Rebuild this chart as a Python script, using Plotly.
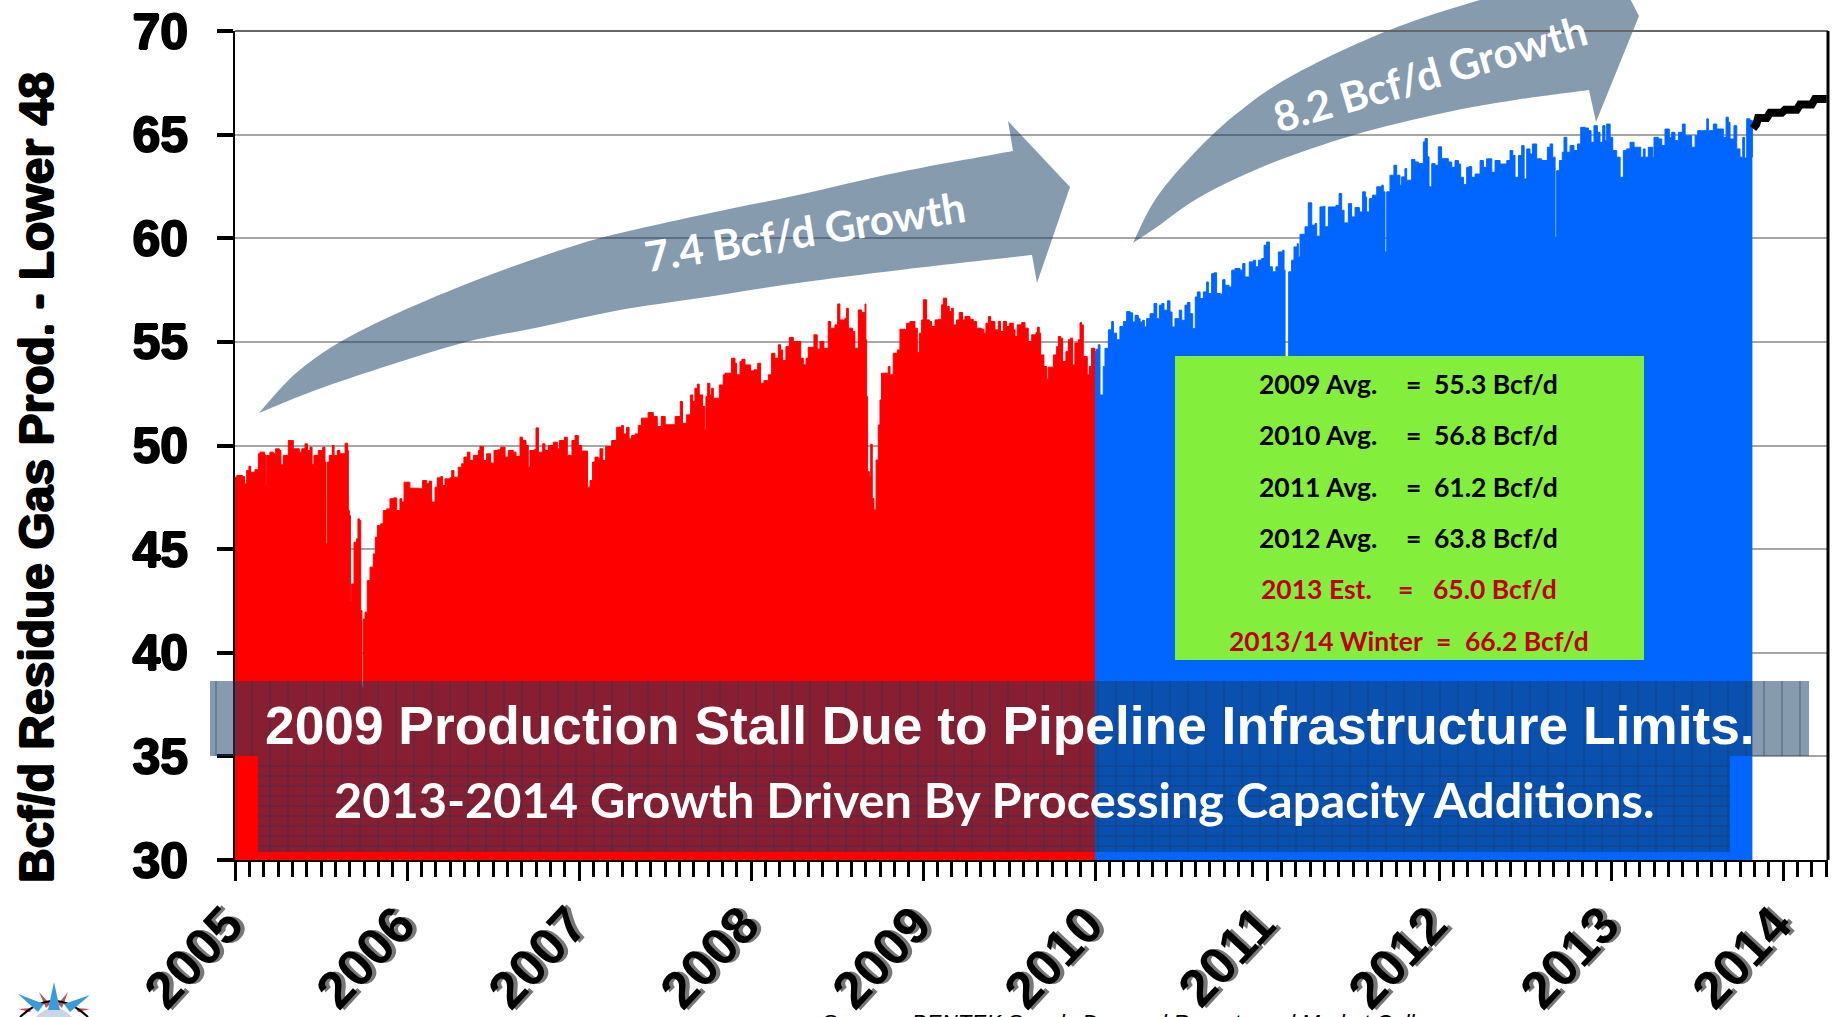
import plotly.graph_objects as go

# Bcf/d, x in decimal years
red_years = [2005.000,2005.010,2005.045,2005.056,2005.068,2005.081,2005.091,2005.116,2005.136,2005.145,2005.172,2005.178,2005.184,2005.203,2005.223,2005.236,2005.258,2005.267,2005.281,2005.310,
    2005.329,2005.339,2005.374,2005.388,2005.407,2005.421,2005.436,2005.448,2005.459,2005.484,2005.510,2005.523,2005.529,2005.537,2005.548,2005.566,2005.576,2005.595,2005.610,2005.640,
    2005.655,2005.659,2005.665,2005.671,2005.678,2005.692,2005.707,2005.715,2005.723,2005.731,2005.738,2005.746,2005.756,2005.769,2005.785,2005.804,2005.816,2005.828,2005.847,2005.862,
    2005.882,2005.901,2005.921,2005.940,2005.959,2005.969,2005.983,2005.998,2006.017,2006.041,2006.066,2006.091,2006.114,2006.128,2006.143,2006.163,2006.176,2006.196,2006.207,2006.221,
    2006.250,2006.260,2006.273,2006.298,2006.318,2006.331,2006.351,2006.366,2006.386,2006.415,2006.424,2006.444,2006.463,2006.486,2006.506,2006.527,2006.545,2006.570,2006.589,2006.618,
    2006.634,2006.657,2006.672,2006.692,2006.705,2006.715,2006.738,2006.750,2006.764,2006.789,2006.802,2006.822,2006.851,2006.874,2006.886,2006.915,2006.932,2006.948,2006.959,2006.977,
    2006.996,2007.016,2007.039,2007.050,2007.064,2007.079,2007.093,2007.112,2007.122,2007.138,2007.155,2007.190,2007.219,2007.248,2007.258,2007.277,2007.291,2007.306,2007.326,2007.345,
    2007.363,2007.402,2007.432,2007.455,2007.478,2007.501,2007.547,2007.559,2007.589,2007.602,2007.626,2007.649,2007.661,2007.674,2007.688,2007.699,2007.719,2007.732,2007.738,2007.748,
    2007.761,2007.771,2007.781,2007.796,2007.816,2007.839,2007.849,2007.878,2007.887,2007.907,2007.916,2007.936,2007.947,2007.965,2007.984,2007.998,2008.017,2008.039,2008.056,2008.075,
    2008.101,2008.120,2008.139,2008.159,2008.172,2008.184,2008.203,2008.223,2008.246,2008.275,2008.289,2008.304,2008.320,2008.333,2008.353,2008.366,2008.385,2008.401,2008.424,2008.449,
    2008.463,2008.488,2008.504,2008.517,2008.546,2008.556,2008.566,2008.591,2008.604,2008.624,2008.643,2008.663,2008.668,2008.672,2008.678,2008.688,2008.696,2008.705,2008.715,2008.727,
    2008.740,2008.750,2008.759,2008.789,2008.798,2008.808,2008.827,2008.851,2008.866,2008.895,2008.905,2008.924,2008.944,2008.953,2008.967,2008.979,2008.992,2009.002,2009.021,2009.037,
    2009.050,2009.070,2009.089,2009.108,2009.118,2009.137,2009.153,2009.166,2009.176,2009.195,2009.211,2009.230,2009.244,2009.273,2009.292,2009.312,2009.341,2009.354,2009.366,2009.380,
    2009.393,2009.418,2009.438,2009.451,2009.467,2009.486,2009.502,2009.525,2009.535,2009.548,2009.574,2009.593,2009.612,2009.632,2009.657,2009.665,2009.676,2009.684,2009.703,2009.719,
    2009.728,2009.742,2009.758,2009.777,2009.787,2009.800,2009.812,2009.831,2009.845,2009.858,2009.870,2009.883,2009.903,2009.913,2009.922,2009.932,2009.955,2009.967,2009.980,2010.000]
red_values = [48.47,48.55,48.50,48.15,48.79,49.00,48.71,48.83,49.60,49.68,49.55,48.07,49.52,49.68,49.60,49.84,49.76,49.07,49.52,50.24,
    50.24,49.84,49.68,49.84,50.08,49.76,49.92,49.07,49.52,49.76,49.92,49.20,45.25,49.20,49.52,50.00,49.52,49.76,49.60,50.11,
    49.76,46.86,46.62,42.52,43.32,45.33,45.50,46.46,46.38,42.04,38.34,41.63,41.96,43.48,44.13,44.77,45.58,46.14,46.22,46.86,
    46.94,47.43,47.47,46.86,47.43,47.27,48.23,48.23,47.94,47.94,47.91,48.31,48.15,48.28,47.27,47.99,48.44,48.50,48.07,48.39,
    48.44,48.79,48.47,48.95,49.12,49.44,49.68,49.28,49.52,49.76,49.95,49.28,49.60,49.15,49.76,49.79,49.92,49.44,49.76,49.68,
    49.47,50.40,50.24,50.00,48.95,49.76,49.79,50.85,49.68,50.08,49.76,50.00,50.16,49.84,50.24,50.40,49.52,49.52,50.24,50.48,
    50.00,49.73,49.73,47.99,48.31,49.20,49.44,49.36,49.84,49.28,49.95,50.24,50.88,50.97,50.56,50.88,50.32,50.48,50.56,50.97,
    51.32,51.59,51.40,50.91,51.40,51.00,51.00,51.40,52.12,51.07,51.48,52.44,52.12,52.76,52.96,52.44,51.88,50.75,52.36,53.00,
    52.44,52.76,52.28,52.28,52.92,53.41,53.49,53.49,54.21,53.97,53.41,54.05,54.16,53.89,53.89,53.60,53.65,53.97,53.00,53.13,
    53.41,54.45,54.21,54.86,54.61,54.10,54.77,55.21,55.02,55.02,54.21,53.89,54.21,54.74,54.74,55.34,54.65,55.02,54.69,55.98,
    55.66,55.82,56.83,56.06,56.14,56.62,55.66,55.50,54.69,56.54,56.42,56.83,55.10,52.36,48.74,48.50,50.06,47.45,46.89,49.30,
    50.99,52.20,53.49,53.49,53.81,53.41,54.45,54.61,55.61,55.58,55.90,55.98,55.98,55.66,54.49,55.42,56.06,57.03,56.06,55.98,
    55.74,56.06,56.09,56.79,57.11,56.71,56.46,56.62,55.82,56.06,56.42,56.06,56.22,56.09,55.98,55.66,55.61,55.42,55.90,56.22,
    55.98,55.58,55.98,55.50,55.98,55.74,55.90,55.58,55.26,55.82,55.93,55.66,55.02,55.34,55.45,55.71,55.42,54.37,53.81,53.20,
    53.78,53.78,54.37,54.77,55.26,55.18,54.05,54.53,55.10,55.18,53.89,54.94,55.10,55.93,55.82,54.29,53.41,53.81,54.69,54.53]

blue_years = [2010.000,2010.009,2010.019,2010.029,2010.039,2010.048,2010.058,2010.078,2010.097,2010.107,2010.126,2010.145,2010.165,2010.184,2010.204,2010.219,2010.233,2010.252,2010.262,2010.277,
    2010.287,2010.300,2010.320,2010.343,2010.359,2010.374,2010.388,2010.401,2010.421,2010.436,2010.448,2010.465,2010.490,2010.504,2010.523,2010.537,2010.552,2010.568,2010.583,2010.595,
    2010.611,2010.630,2010.649,2010.659,2010.678,2010.692,2010.707,2010.731,2010.742,2010.756,2010.779,2010.795,2010.814,2010.843,2010.859,2010.872,2010.897,2010.921,2010.934,2010.950,
    2010.969,2010.983,2010.998,2011.014,2011.031,2011.052,2011.066,2011.091,2011.099,2011.105,2011.114,2011.126,2011.143,2011.157,2011.176,2011.182,2011.192,2011.211,2011.221,2011.240,
    2011.250,2011.260,2011.279,2011.289,2011.308,2011.328,2011.337,2011.357,2011.376,2011.401,2011.419,2011.434,2011.448,2011.473,2011.492,2011.512,2011.537,2011.556,2011.572,2011.579,
    2011.595,2011.614,2011.638,2011.667,2011.676,2011.686,2011.696,2011.715,2011.738,2011.754,2011.773,2011.783,2011.802,2011.812,2011.841,2011.860,2011.880,2011.909,2011.919,2011.932,
    2011.942,2011.958,2011.977,2011.996,2012.015,2012.054,2012.074,2012.093,2012.113,2012.126,2012.142,2012.161,2012.175,2012.190,2012.210,2012.239,2012.258,2012.277,2012.307,2012.326,
    2012.355,2012.394,2012.413,2012.429,2012.442,2012.462,2012.481,2012.495,2012.510,2012.529,2012.543,2012.568,2012.597,2012.630,2012.646,2012.661,2012.675,2012.684,2012.700,2012.717,
    2012.727,2012.743,2012.762,2012.785,2012.805,2012.824,2012.849,2012.869,2012.884,2012.901,2012.921,2012.936,2012.952,2012.965,2012.975,2012.995,2013.010,2013.033,2013.053,2013.072,
    2013.091,2013.111,2013.134,2013.159,2013.173,2013.188,2013.198,2013.217,2013.243,2013.250,2013.275,2013.295,2013.314,2013.339,2013.353,2013.372,2013.392,2013.415,2013.431,2013.450,
    2013.469,2013.489,2013.504,2013.527,2013.557,2013.566,2013.595,2013.615,2013.653,2013.669,2013.682,2013.692,2013.715,2013.731,2013.750,2013.766,2013.777,2013.789,2013.808,2013.822]
blue_values = [54.53,54.65,54.86,52.44,52.44,53.81,54.69,55.58,55.98,55.42,55.10,55.74,55.98,56.46,56.40,55.96,56.28,56.12,55.96,56.04,
    55.72,56.12,56.36,56.85,56.12,56.77,56.85,56.53,56.98,56.44,55.72,56.12,56.53,56.04,56.77,56.90,56.36,55.64,57.17,57.41,
    57.09,57.41,57.89,57.33,58.29,58.33,57.33,57.30,58.00,57.73,57.65,58.46,58.54,58.46,58.78,58.13,58.86,58.94,58.62,58.94,
    59.02,59.66,59.82,58.62,58.38,58.62,59.34,59.42,58.46,53.95,53.95,58.38,58.94,59.58,59.74,59.10,60.19,60.19,60.55,61.71,
    61.71,60.63,60.71,60.10,61.51,61.54,60.55,61.51,61.51,61.59,62.16,61.35,60.74,61.67,61.03,61.48,61.27,62.24,61.99,61.27,
    61.91,62.08,62.48,62.56,62.24,59.34,62.24,63.04,63.52,63.04,62.56,62.96,63.36,62.80,63.80,63.68,63.60,64.65,64.81,63.93,
    62.48,63.60,63.52,64.41,63.84,63.68,63.42,63.75,63.58,62.94,62.59,63.42,63.46,62.94,63.10,63.75,63.42,63.83,63.18,63.75,
    63.58,63.75,64.23,63.99,62.94,63.99,64.47,62.86,64.31,64.07,64.55,63.83,63.75,64.39,64.55,63.91,60.05,63.26,63.75,64.15,
    64.87,64.15,64.47,64.23,64.55,65.35,65.32,65.19,64.63,65.43,65.11,64.63,65.43,64.71,65.51,64.87,64.23,63.91,62.94,64.23,
    64.31,64.63,64.39,64.39,63.91,64.31,63.91,64.39,63.91,64.87,64.79,64.47,65.27,64.87,65.11,64.71,65.11,65.51,64.95,64.95,
    64.39,64.95,65.19,65.19,65.76,65.19,65.51,65.27,64.87,65.84,65.60,64.79,65.43,64.31,63.91,64.87,63.87,65.76,65.68,63.91]

forecast_years = [2013.826,2013.845,2013.855,2013.905,2013.925,2013.992,2014.012,2014.080,2014.099,2014.167,2014.186,2014.254]
forecast_values = [65.30,65.50,65.80,65.80,66.05,66.05,66.20,66.20,66.45,66.45,66.72,66.72]

year_ticks = [2005,2006,2007,2008,2009,2010,2011,2012,2013,2014]
value_ticks = [30,35,40,45,50,55,60,65,70]

avg_labels = ["2009 Avg.","2010 Avg.","2011 Avg.","2012 Avg.","2013 Est.","2013/14 Winter"]
avg_values = ["55.3 Bcf/d","56.8 Bcf/d","61.2 Bcf/d","63.8 Bcf/d","65.0 Bcf/d","66.2 Bcf/d"]
avg_colors = ["black","black","black","black","#C00000","#C00000"]
avg_label_x = [1257,1257,1257,1257,1259,1227]
avg_eq_x = [1413,1413,1413,1413,1405,1443]
avg_value_x = [1432,1432,1432,1432,1431,1463]
avg_y = [384,435,487,538,589,641]

W, H = 1836, 1017
L, R, T, B = 235, 1828, 31, 860
OVERLAY = "#143B62"
HEAVY = "1px 0 0 black, -1px 0 0 black, 0 1px 0 black, 0 -1px 0 black"

# page pixels to paper fractions
def px(x):
    return (x - L) / (R - L)

def py(y):
    return (B - y) / (B - T)

def path(points):
    return "M " + " L ".join(f"{px(x):.5f},{py(y):.5f}" for x, y in points) + " Z"

# catmull-rom through the points, for the bent arrow edges
def curve(points):
    out = ""
    for i in range(len(points) - 1):
        p0 = points[max(i - 1, 0)]
        p1 = points[i]
        p2 = points[i + 1]
        p3 = points[min(i + 2, len(points) - 1)]
        c1 = (p1[0] + (p2[0] - p0[0]) / 6, p1[1] + (p2[1] - p0[1]) / 6)
        c2 = (p2[0] - (p3[0] - p1[0]) / 6, p2[1] - (p3[1] - p1[1]) / 6)
        out += f"C {px(c1[0]):.5f},{py(c1[1]):.5f} {px(c2[0]):.5f},{py(c2[1]):.5f} {px(p2[0]):.5f},{py(p2[1]):.5f} "
    return out

def arrow_path(upper, head, lower):
    d = f"M {px(upper[0][0]):.5f},{py(upper[0][1]):.5f} " + curve(upper)
    for x, y in head:
        d += f"L {px(x):.5f},{py(y):.5f} "
    d += f"L {px(lower[0][0]):.5f},{py(lower[0][1]):.5f} " + curve(lower)
    return d + "Z"

fig = go.Figure()

fig.add_trace(go.Scatter(x=red_years, y=red_values, mode="lines", fill="tozeroy",
                         line=dict(color="#FF0000", width=1, shape="hv"), fillcolor="#FF0000"))
fig.add_trace(go.Scatter(x=blue_years, y=blue_values, mode="lines", fill="tozeroy",
                         line=dict(color="#0066FF", width=1, shape="hv"), fillcolor="#0066FF"))
fig.add_trace(go.Scatter(x=forecast_years, y=forecast_values, mode="lines",
                         line=dict(color="black", width=8)))

# growth arrows
arrow_1 = arrow_path([(259,413),(295,374),(340,342),(400,312),(474,281),(540,257),(600,238),(660,224),(720,211),(798,195),(900,172),(1013,151)],
                     [(1008,121),(1070,187),(1037,283)],
                     [(1032,255),(900,270),(798,283),(700,298),(620,310),(540,327),(466,342),(390,365),(316,390),(259,413)])
arrow_2 = arrow_path([(1133,243),(1157,197),(1200,147),(1245,107),(1297,73),(1387,31),(1480,0),(1560,-20)],
                     [(1610,-40),(1639,16),(1596,122)],
                     [(1589,90),(1515,100),(1443,113),(1354,135),(1267,165),(1200,197),(1157,227),(1133,243)])
shapes = []
for arrow in (arrow_1, arrow_2):
    shapes.append(dict(type="path", xref="paper", yref="paper", path=arrow,
                       fillcolor=OVERLAY, opacity=0.51, line=dict(width=0)))

# plot frame
shapes.append(dict(type="line", xref="paper", yref="paper", x0=0, x1=1, y0=1, y1=1, line=dict(color="#666666", width=2)))
shapes.append(dict(type="line", xref="paper", yref="paper", x0=1, x1=1, y0=0, y1=1, line=dict(color="black", width=3)))

# green averages box
shapes.append(dict(type="rect", xref="paper", yref="paper", x0=px(1175), x1=px(1644), y0=py(660), y1=py(356),
                   fillcolor="#84EE3C", line=dict(width=0)))

# message bands
shapes.append(dict(type="rect", xref="paper", yref="paper", x0=px(210), x1=px(1809), y0=py(756), y1=py(681),
                   fillcolor=OVERLAY, opacity=0.51, line=dict(width=0)))
shapes.append(dict(type="rect", xref="paper", yref="paper", x0=px(258), x1=px(1730), y0=py(852), y1=py(756),
                   fillcolor=OVERLAY, opacity=0.51, line=dict(width=0)))

# the bands' woven texture
hatch = ""
for x in range(216, 1809, 18):
    hatch += f"M {px(x):.5f},{py(681):.5f} L {px(x):.5f},{py(756 if (x < 258 or x > 1730) else 852):.5f} "
for y in range(766, 852, 10):
    hatch += f"M {px(258):.5f},{py(y):.5f} L {px(1730):.5f},{py(y):.5f} "
shapes.append(dict(type="path", xref="paper", yref="paper", path=hatch, line=dict(color="#1C3560", width=1), opacity=0.55))

# compass logo, cut off by the page edge
logo_blue = [[(54,982),(48,1010),(60,1010)], [(18,994),(38,1012),(44,1004)], [(90,995),(64,1004),(70,1012)]]
logo_red = [[(39,992),(46,1008),(50,1004)], [(68,992),(58,1004),(62,1008)], [(18,1009),(30,1012),(32,1008)], [(90,1009),(76,1008),(78,1012)]]
for tri in logo_red:
    shapes.append(dict(type="path", xref="paper", yref="paper", path=path(tri), fillcolor="#C0504D", line=dict(width=0)))
shapes.append(dict(type="path", xref="paper", yref="paper",
                   path=f"M {px(20)},{py(1017)} Q {px(54)},{py(985)} {px(88)},{py(1017)}",
                   line=dict(color="black", width=2)))
shapes.append(dict(type="path", xref="paper", yref="paper",
                   path=f"M {px(36)},{py(1017)} Q {px(54)},{py(998)} {px(72)},{py(1017)} Z",
                   fillcolor="#C9D6E6", line=dict(width=0)))
for tri in logo_blue:
    shapes.append(dict(type="path", xref="paper", yref="paper", path=path(tri), fillcolor="#3B9BD8", line=dict(width=0)))

annotations = []

def note(text, x, y, size, color="white", family="Lato", xanchor="center", angle=0, bold=True, italic=False, shadow="none"):
    if bold:
        text = f"<b>{text}</b>"
    if italic:
        text = f"<i>{text}</i>"
    annotations.append(dict(text=text, xref="paper", yref="paper", x=px(x), y=py(y), xanchor=xanchor, yanchor="middle",
                            showarrow=False, textangle=angle, font=dict(family=family, size=size, color=color, shadow=shadow)))

note("Bcf/d Residue Gas Prod. - Lower 48", 37, 478, 48, color="black", family="Liberation Sans", angle=-90, shadow=HEAVY)
note("7.4 Bcf/d Growth", 805, 231, 42, angle=-9)
note("8.2 Bcf/d Growth", 1430, 73, 42, angle=-16)
note("2009 Production Stall Due to Pipeline Infrastructure Limits.", 1010, 725, 53.3, family="Liberation Sans")
note("2013-2014 Growth Driven By Processing Capacity Additions.", 994, 799, 48.7)
note("Source:  BENTEK Supply Demand Reports and Market Calls", 1124, 1022, 22.4, color="black", family="Liberation Sans", bold=False, italic=True)

for label, value, color, lx, ex, vx, y in zip(avg_labels, avg_values, avg_colors, avg_label_x, avg_eq_x, avg_value_x, avg_y):
    note(label, lx, y, 26.5, color=color, xanchor="left")
    note("=", ex, y, 26.5, color=color)
    note(value, vx, y, 26.5, color=color, xanchor="left")

fig.update_layout(
    width=W, height=H, autosize=False, showlegend=False,
    paper_bgcolor="white", plot_bgcolor="white",
    margin=dict(l=L, r=W - R, t=T, b=H - B, autoexpand=False),
    shapes=shapes, annotations=annotations,
    xaxis=dict(
        range=[2005, 2005 + (R - L) / 172], tickvals=year_ticks, ticktext=[str(y) for y in year_ticks],
        ticks="outside", ticklen=19, tickwidth=3, tickcolor="black", automargin=False,
        tickangle=-47, ticklabelstandoff=-8, ticklabelshift=-8,
        tickfont=dict(family="Liberation Sans", size=52, color="black", weight="bold", shadow="3px 3px 0 #777777"),
        showgrid=False, zeroline=False, showline=True, linecolor="black", linewidth=2,
        minor=dict(tick0=2005, dtick=1 / 12, ticks="outside", ticklen=15, tickwidth=3, tickcolor="black", showgrid=False),
    ),
    yaxis=dict(
        range=[30, 70], tickvals=value_ticks, ticks="outside", ticklen=16, tickwidth=4, tickcolor="black", automargin=False,
        ticklabelstandoff=19,
        tickfont=dict(family="Liberation Sans", size=50, color="black", weight="bold", shadow=HEAVY),
        showgrid=True, gridcolor="#A6A6A6", gridwidth=2, zeroline=False, showline=True, linecolor="black", linewidth=2,
    ),
)

fig.write_html("out.html", config=dict(displayModeBar=False), post_script="document.body.style.margin='0'")
